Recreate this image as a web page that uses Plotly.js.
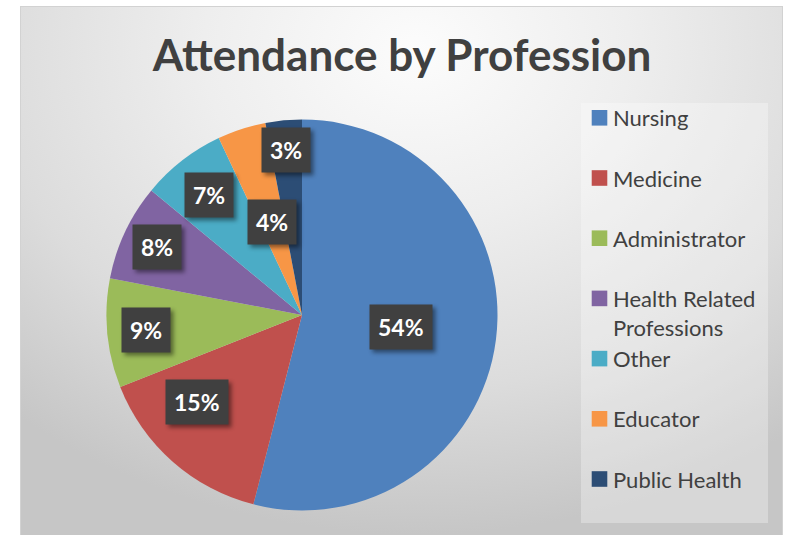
<!DOCTYPE html>
<html>
<head>
<meta charset="utf-8">
<script src="https://cdn.plot.ly/plotly-3.0.1.min.js"></script>
<style>
  html, body { margin: 0; padding: 0; background: #ffffff; }
  #wrap { position: relative; width: 790px; height: 535px; overflow: hidden; }
  #bg {
    position: absolute; left: 20px; top: 6px; width: 763px; height: 540px;
    box-sizing: border-box; border: 1px solid #d2d2d2;
    background: radial-gradient(ellipse 80% 90% at 52% 8%, #fcfcfc 0%, #eeeeee 35%, #dcdcdc 70%, #c6c6c6 100%);
  }
  #chart { position: absolute; left: 0; top: 0; width: 790px; height: 535px; }
  .annotation-text-g rect.bg { filter: drop-shadow(3px 3px 2px rgba(0,0,0,0.45)); }
  .legend .legendpoints path { transform: translate(26.5px, 0px) scale(1.3); }
</style>
</head>
<body>
<div id="wrap"><div id="bg"></div><div id="chart"></div></div>
<script>
// ---- data ----
const categories = ['Nursing', 'Medicine', 'Administrator', 'Health Related Professions', 'Other', 'Educator', 'Public Health'];
const shares = [54, 15, 9, 8, 7, 4, 3];
const sliceColors = ['#4f81bd', '#c0504d', '#9bbb59', '#8064a2', '#4bacc6', '#f79646', '#2c4d75'];
const chartTitle = 'Attendance by Profession';

// ---- label placement (fraction of radius, angle shift in degrees) ----
const labelRadius = [0.51, 0.70, 0.80, 0.82, 0.78, 0.50, 0.85];
const labelAngleShift = [0, 9, 0, 0, 0, 0, 0];

// ---- geometry ----
const W = 790, H = 535;
const CX = 302, CY = 315, R = 195.5;

function wrapName(s) {
  if (s.length <= 16) return s + '<br> ';
  const i = s.lastIndexOf(' ', 16);
  return s.slice(0, i) + '<br>' + s.slice(i + 1);
}

const total = shares.reduce((a, b) => a + b, 0);
let cum = 0;
const annotations = shares.map((v, i) => {
  const mid = (cum + v / 2) / total * 360 + labelAngleShift[i];
  cum += v;
  const a = mid * Math.PI / 180;
  const px = CX + labelRadius[i] * R * Math.sin(a);
  const py = CY - labelRadius[i] * R * Math.cos(a);
  return {
    x: px / W, y: 1 - py / H, xref: 'paper', yref: 'paper',
    xanchor: 'center', yanchor: 'middle', showarrow: false,
    text: '<b>' + Math.round(v / total * 100) + '%</b>',
    font: { family: 'Lato, sans-serif', size: 23, color: '#ffffff' },
    bgcolor: '#404040', borderpad: 8
  };
});

const trace = {
  type: 'pie',
  labels: categories.map(wrapName),
  values: shares,
  marker: { colors: sliceColors, line: { width: 0 } },
  sort: false,
  direction: 'clockwise',
  rotation: 0,
  textinfo: 'none',
  hoverinfo: 'label+percent',
  domain: { x: [(CX - R) / W, (CX + R) / W], y: [(H - CY - R) / H, (H - CY + R) / H] }
};

const layout = {
  width: W, height: H,
  margin: { l: 0, r: 0, t: 0, b: 0 },
  paper_bgcolor: 'rgba(0,0,0,0)',
  plot_bgcolor: 'rgba(0,0,0,0)',
  title: {
    text: '<b>' + chartTitle + '</b>',
    font: { family: 'Lato, sans-serif', size: 44, color: '#404040' },
    x: 0.509, xanchor: 'center', y: 1 - 56 / H, yanchor: 'middle', yref: 'container'
  },
  showlegend: true,
  legend: {
    x: 573 / W, xanchor: 'left', y: 1 - 97 / H, yanchor: 'top',
    bgcolor: 'rgba(0,0,0,0)', valign: 'top',
    font: { family: 'Lato, sans-serif', size: 22, color: '#404040' }
  },
  shapes: [{
    type: 'rect', xref: 'paper', yref: 'paper', layer: 'below',
    x0: 581 / W, x1: 768 / W, y0: 1 - 523 / H, y1: 1 - 103 / H,
    fillcolor: 'rgba(255,255,255,0.3)', line: { width: 0 }
  }],
  annotations: annotations
};

Plotly.newPlot('chart', [trace], layout, { displayModeBar: false, staticPlot: true });
</script>
</body>
</html>
